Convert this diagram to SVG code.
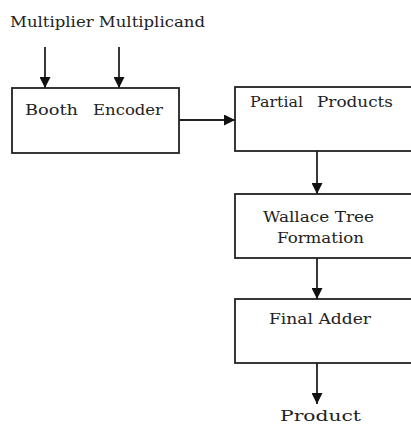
<svg xmlns="http://www.w3.org/2000/svg" width="411" height="426" viewBox="0 0 411 426">
<style>
.box{fill:#fff;stroke:#222;stroke-width:1.8}
.t{font-family:"DejaVu Serif","Liberation Serif",serif;font-size:15px;fill:#222}
.c{stroke:#222;stroke-width:1.8;fill:none}
</style>
<defs>
<marker id="ah" viewBox="0 0 10 10" refX="10" refY="5" markerWidth="11" markerHeight="11" markerUnits="userSpaceOnUse" orient="auto">
<path d="M0,0 L10,5 L0,10 Z" fill="#111"/>
</marker>
</defs>
<rect width="411" height="426" fill="#fff"/>
<text class="t" x="10" y="27" textLength="195" lengthAdjust="spacingAndGlyphs">Multiplier Multiplicand</text>
<g id="booth">
<rect class="box" x="12" y="88" width="167" height="65"/>
<text class="t" x="25" y="115" textLength="53" lengthAdjust="spacingAndGlyphs">Booth</text>
<text class="t" x="93" y="115" textLength="70" lengthAdjust="spacingAndGlyphs">Encoder</text>
</g>
<g id="partial">
<rect class="box" x="235" y="87" width="180" height="64"/>
<text class="t" x="250" y="107" textLength="53" lengthAdjust="spacingAndGlyphs">Partial</text>
<text class="t" x="317" y="107" textLength="76" lengthAdjust="spacingAndGlyphs">Products</text>
</g>
<g id="wallace">
<rect class="box" x="235" y="194" width="180" height="64"/>
<text class="t" x="263" y="222" textLength="111" lengthAdjust="spacingAndGlyphs">Wallace Tree</text>
<text class="t" x="277" y="243" textLength="87" lengthAdjust="spacingAndGlyphs">Formation</text>
</g>
<g id="adder">
<rect class="box" x="235" y="299" width="180" height="64"/>
<text class="t" x="269" y="324" textLength="102" lengthAdjust="spacingAndGlyphs">Final Adder</text>
</g>
<text class="t" x="280" y="421" textLength="81" lengthAdjust="spacingAndGlyphs">Product</text>
<g id="connectors">
<line class="c" x1="45" y1="47" x2="45" y2="88" marker-end="url(#ah)"/>
<line class="c" x1="119" y1="47" x2="119" y2="88" marker-end="url(#ah)"/>
<line class="c" x1="179" y1="120" x2="235" y2="120" marker-end="url(#ah)"/>
<line class="c" x1="317" y1="151" x2="317" y2="194" marker-end="url(#ah)"/>
<line class="c" x1="317" y1="258" x2="317" y2="299" marker-end="url(#ah)"/>
<line class="c" x1="317" y1="363" x2="317" y2="404" marker-end="url(#ah)"/>
</g>
</svg>
